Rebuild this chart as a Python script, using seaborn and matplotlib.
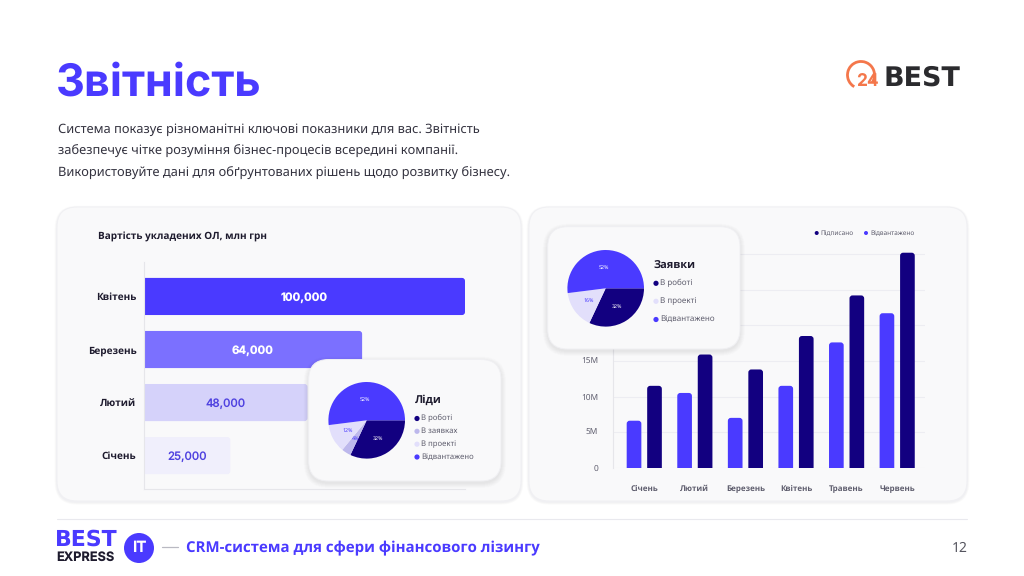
import matplotlib
matplotlib.use("Agg")
import matplotlib.pyplot as plt
import pandas as pd
import seaborn as sns
from matplotlib.patches import FancyBboxPatch, Circle, Arc

# ---------- data ----------
h_months = ["Квітень", "Березень", "Лютий", "Січень"]
h_lengths = [100, 68, 51, 27]
h_labels = ["100,000", "64,000", "48,000", "25,000"]

v_months = ["Січень", "Лютий", "Березень", "Квітень", "Травень", "Червень"]
shipped = [6.6, 10.5, 7.0, 11.5, 17.6, 21.7]
signed = [11.5, 15.9, 13.8, 18.5, 24.2, 30.2]
y_ticks = [0, 5, 10, 15, 20, 25, 30]

leads_labels = ["В роботі", "В заявках", "В проекті", "Відвантажено"]
leads_values = [32, 4, 12, 52]
req_labels = ["В роботі", "В проекті", "Відвантажено"]
req_values = [32, 16, 52]

body_lines = [
    "Система показує різноманітні ключові показники для вас. Звітність",
    "забезпечує чітке розуміння бізнес-процесів всередині компанії.",
    "Використовуйте дані для обґрунтованих рішень щодо розвитку бізнесу.",
]

# ---------- style ----------
BLUE = "#4A3AFF"
NAVY = "#120080"
MID = "#7B70FF"
LIL = "#D5D2FA"
PALE = "#F0EFFC"
LILAC = "#BDB8EC"
LIGHT = "#E2DFFB"
DARK = "#1E1B2E"
GREY = "#5F5E6E"
CARD = "#F9F9FA"
GRID = "#EDEDF2"

sns.set_theme(style="white")
plt.rcParams["font.family"] = ["Noto Sans", "DejaVu Sans"]
plt.rcParams["text.hinting"] = "no_hinting"
plt.rcParams["text.hinting_factor"] = 1
BOLD = "Open Sans"

W, H = 1024, 576
fig = plt.figure(figsize=(W / 100, H / 100), dpi=100, facecolor="white")


def px_axes(l, t, r, b, z):
    ax = fig.add_axes([l / W, 1 - b / H, (r - l) / W, (b - t) / H], zorder=z)
    ax.patch.set_alpha(0)
    return ax


def full_axes(z):
    ax = px_axes(0, 0, W, H, z)
    ax.set_xlim(0, W)
    ax.set_ylim(H, 0)
    ax.axis("off")
    return ax


def card(ax, x0, y0, x1, y1, r, strong=False):
    n = 10 if strong else 5
    for i in range(n, 0, -1):
        ax.add_patch(FancyBboxPatch((x0 - i * .5, y0 + (2 if strong else 1.2) - i * .5), x1 - x0 + i, y1 - y0 + i,
                                    boxstyle=f"round,pad=0,rounding_size={r + i * .5}",
                                    fc="#2A2A50", ec="none", alpha=.009 if strong else .011))
    ax.add_patch(FancyBboxPatch((x0, y0), x1 - x0, y1 - y0,
                                boxstyle=f"round,pad=0,rounding_size={r}",
                                fc=CARD, ec="#F0F0F3", lw=.7))


def round_bars(ax, r_px, horizontal):
    x0, x1 = ax.get_xlim()
    y0, y1 = ax.get_ylim()
    bb = ax.get_window_extent()
    ux = abs(x1 - x0) / bb.width
    uy = abs(y1 - y0) / bb.height
    for p in list(ax.patches):
        x, y, w, h = p.get_x(), p.get_y(), p.get_width(), p.get_height()
        c = p.get_facecolor()
        p.remove()
        if horizontal:
            ext = 10 * ux
            box = (x - ext, y), w + ext, h
        else:
            ext = 10 * uy
            box = (x, y - ext), w, h + ext
        ax.add_patch(FancyBboxPatch(box[0], box[1], box[2],
                                    boxstyle=f"round,pad=0,rounding_size={r_px * ux}",
                                    mutation_aspect=uy / ux, fc=c, ec="none", zorder=2))


# ---------- background ----------
bg = full_axes(0)
card(bg, 57, 207, 521, 501, 20)
card(bg, 529, 207, 967, 501, 20)
bg.plot([57, 967], [519, 519], color="#E9E9EE", lw=.8)

bg.text(56, 84, "Звітність", color=BLUE, fontsize=32.3, fontweight="bold",
        family="Inter", va="center", ha="left")
for yy, line in zip([130, 152, 174], body_lines):
    bg.text(58, yy, line, color="#33323F", fontsize=9.27, va="center", ha="left")

# 24BEST logo
bg.add_patch(Arc((861, 75), 27, 27, theta1=120, theta2=395, color="#F4774B", lw=2))
bg.text(856, 81, "24", color="#F4774B", fontsize=12.5, fontweight="bold", family="Inter", va="center", ha="left")
bg.text(883.5, 78.5, "BEST", color="#2B2B2E", fontsize=19.6, fontweight="bold", family="DejaVu Sans",
        va="center", ha="left")

# footer
bg.text(55, 540, "BEST", color=BLUE, fontsize=15.6, fontweight="bold", family="DejaVu Sans", va="center", ha="left")
bg.text(56, 557, "EXPRESS", color=DARK, fontsize=9.2, fontweight="bold", family="Inter", va="center", ha="left")
bg.add_patch(Circle((139, 548), 15, fc=BLUE, ec="none"))
bg.text(139, 548, "IT", color="white", fontsize=11, fontweight="bold", family="Inter", va="center", ha="center")
bg.plot([162, 178], [547, 547], color="#B9B9C2", lw=.9)
bg.text(186, 548.5, "CRM-система для сфери фінансового лізингу", color=BLUE, fontsize=11.1,
        fontweight="bold", family=BOLD, va="center", ha="left")
bg.text(968, 548, "12", color="#55555F", fontsize=10, va="center", ha="right")

bg.text(98, 236.5, "Вартість укладених ОЛ, млн грн", color=DARK, fontsize=7.5,
        fontweight="bold", family=BOLD, va="center", ha="left")

# ---------- horizontal bars ----------
ax1 = px_axes(143.5, 262, 465, 489, 1)
hdf = pd.DataFrame({"month": h_months, "value": h_lengths})
sns.barplot(data=hdf, x="value", y="month", hue="month", palette=[BLUE, MID, LIL, PALE],
            width=.7, legend=False, ax=ax1, saturation=1)
ax1.set_xlim(0, 100)
ax1.set_ylim(3.63, -.65)
ax1.set_xlabel("")
ax1.set_ylabel("")
ax1.set_xticks([])
ax1.tick_params(axis="y", length=0, pad=5, labelsize=7.3, labelcolor=DARK)
for t in ax1.get_yticklabels():
    t.set_fontweight("bold")
    t.set_family(BOLD)
sns.despine(ax=ax1, top=True, right=True)
for s in ["left", "bottom"]:
    ax1.spines[s].set_color("#E6E6EA")
    ax1.spines[s].set_linewidth(.8)
round_bars(ax1, 3, True)
for i, (v, lab) in enumerate(zip(h_lengths, h_labels)):
    light = i < 2
    ax1.text(v / 2, i + .02, lab, ha="center", va="center", fontsize=8.2, family="Inter",
             color="white" if light else "#4F42E0", fontweight="bold" if light else "medium", zorder=3)

# ---------- vertical bars ----------
ax2 = px_axes(612.5, 252, 925, 467.7, 1)
vdf = pd.DataFrame({
    "month": v_months * 2,
    "value": shipped + signed,
    "kind": ["Відвантажено"] * len(v_months) + ["Підписано"] * len(v_months),
})
sns.barplot(data=vdf, x="month", y="value", hue="kind", palette=[BLUE, NAVY], width=.81, gap=.284,
            legend=False, ax=ax2, saturation=1)
ax2.set_xlim(-.628, 5.55)
ax2.set_ylim(0, 30.3)
ax2.set_xlabel("")
ax2.set_ylabel("")
ax2.set_yticks(y_ticks)
ax2.set_yticklabels(["0" if v == 0 else f"{v}M" for v in y_ticks])
ax2.tick_params(axis="y", length=0, pad=10.5, labelsize=6, labelcolor=GREY)
ax2.tick_params(axis="x", length=0, pad=16.5, labelsize=5.6, labelcolor=GREY)
for t in ax2.get_xticklabels():
    t.set_fontweight("bold")
    t.set_family(BOLD)
    t.set_verticalalignment("baseline")
ax2.grid(axis="y", color=GRID, lw=.8)
ax2.set_axisbelow(True)
sns.despine(ax=ax2, top=True, right=True, bottom=True)
ax2.spines["left"].set_color("#E6E6EA")
ax2.spines["left"].set_linewidth(.8)
round_bars(ax2, 3, False)

# ---------- overlay ----------
ov = full_axes(2)
card(ov, 308.7, 359.5, 501, 481, 20, True)
card(ov, 547.7, 226.7, 740, 349, 20, True)


def legend_rows(labels, colors, ys, xc, size):
    for lab, col, y in zip(labels, colors, ys):
        ov.add_patch(Circle((xc, y), 2.6, fc=col, ec="none"))
        ov.text(xc + 4.3, y, lab, color=GREY, fontsize=size, va="center", ha="left")


ov.text(415, 400, "Ліди", color=DARK, fontsize=8, fontweight="bold", family=BOLD, va="center", ha="left")
legend_rows(leads_labels, [NAVY, LILAC, LIGHT, BLUE], [418.5, 431.3, 444.2, 457], 417, 5.6)
ov.text(653.5, 266, "Заявки", color=DARK, fontsize=8, fontweight="bold", family=BOLD, va="center", ha="left")
legend_rows(req_labels, [NAVY, LIGHT, BLUE], [283.3, 301.3, 319.5], 656, 5.8)

for lab, col, xc in [("Підписано", NAVY, 816.7), ("Відвантажено", BLUE, 866)]:
    bg.add_patch(Circle((xc, 233), 2.0, fc=col, ec="none"))
    bg.text(xc + 4, 233, lab, color=GREY, fontsize=4.7, va="center", ha="left")


def draw_pie(cx, cy, r, values, colors, txt):
    a = px_axes(cx - r, cy - r, cx + r, cy + r, 3)
    # slices go clockwise from east: values listed in clockwise order
    wedges, texts, autos = a.pie(values, colors=colors, startangle=0, counterclock=False, radius=1,
                                 autopct=lambda p: f"{p:.0f}%", pctdistance=.55,
                                 wedgeprops={"linewidth": 0, "edgecolor": "none"},
                                 textprops={"fontsize": 3.8})
    for at, c in zip(autos, txt):
        at.set_color(c)
    a.set_xlim(-1, 1)
    a.set_ylim(-1, 1)


draw_pie(366.7, 420.3, 38.3, leads_values, [NAVY, LILAC, LIGHT, BLUE], ["white", "#4A3AFF", "#4A3AFF", "white"])
draw_pie(605.7, 288.3, 38.3, req_values, [NAVY, LIGHT, BLUE], ["white", "#4A3AFF", "white"])

fig.savefig("out.png", dpi=100, facecolor="white")
